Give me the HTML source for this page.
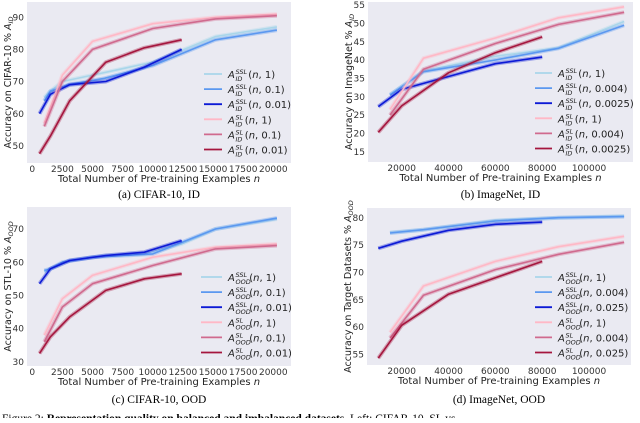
<!DOCTYPE html>
<html><head><meta charset="utf-8"><style>
body{margin:0;background:#fff;width:640px;height:418px;overflow:hidden}
svg{font-family:"DejaVu Sans","Liberation Sans",sans-serif}
.cap{font-family:"Liberation Serif",serif;font-size:11.5px}
</style></head><body>
<svg id="fig" width="640" height="418" viewBox="0 0 640 418" xmlns="http://www.w3.org/2000/svg"></svg>
<script>
// ---- Panel (a) CIFAR-10 ID ----
const aSsl1X=[1000,1500,2500,5000,10000,15200,20300], aSsl1Y=[65,67,70,72,76,84,87];
const aSsl2X=[1000,1500,3000,6000,10000,15200,20300], aSsl2Y=[64,67,69,71,75,83,86];
const aSsl3X=[600,1500,3100,6100,9300,12400], aSsl3Y=[60,66,69,70,74.5,80];
const aSl1X=[1000,2500,5000,10000,15200,20300], aSl1Y=[57,72,82.5,88,90,91];
const aSl2X=[1000,2500,5000,10000,15200,20300], aSl2Y=[56,70,80,86.5,89.5,90.5];
const aSl3X=[600,1500,3100,6100,9300,12400], aSl3Y=[47.5,53,64,76,80.5,83];
const aXTicks=[0,2500,5000,7500,10000,12500,15000,17500,20000], aYTicks=[50,60,70,80,90];
// ---- Panel (b) ImageNet ID ----
const bSsl1X=[15000,29300,60000,87000,115000], bSsl1Y=[30.5,37,41,43.3,50.5];
const bSsl2X=[15000,29300,60000,87000,115000], bSsl2Y=[30.5,36.8,40,43.2,49.5];
const bSsl3X=[10000,20000,40000,60000,80000], bSsl3Y=[27.3,32,35.5,39,40.8];
const bSl1X=[15000,29300,60000,87000,115000], bSl1Y=[26.5,40.5,46,51.5,54.5];
const bSl2X=[15000,29300,60000,87000,115000], bSl2Y=[25,37.5,44.5,49.7,53];
const bSl3X=[10000,20000,40000,60000,80000], bSl3Y=[20.3,27.5,36.5,42,46.3];
const bXTicks=[20000,40000,60000,80000,100000], bYTicks=[15,20,25,30,35,40,45,50,55];
// ---- Panel (c) CIFAR-10 OOD ----
const cSsl1X=[1000,1500,3100,6100,9300,12400,15200,20300], cSsl1Y=[57,58,60.5,62,62.5,65.5,70,73];
const cSsl2X=[1000,1500,2500,5000,10000,15200,20300], cSsl2Y=[57.5,58,60,61.5,62.5,70,73.3];
const cSsl3X=[600,1500,3100,6100,9300,12400], cSsl3Y=[53.5,58,60.5,62,63,66.5];
const cSl1X=[1000,2500,5000,10000,15200,20300], cSl1Y=[38,49,56,61.5,64.5,65.5];
const cSl2X=[1000,2500,5000,10000,15200,20300], cSl2Y=[36,46.5,53.5,59,64,65];
const cSl3X=[600,1500,3100,6100,9300,12400], cSl3Y=[32.5,37.5,43.5,51.5,55,56.5];
const cXTicks=[0,2500,5000,7500,10000,12500,15000,17500,20000], cYTicks=[30,40,50,60,70];
// ---- Panel (d) ImageNet OOD ----
const dSsl1X=[15000,29300,60000,87000,115000], dSsl1Y=[77.3,77.8,79.5,80,80.3];
const dSsl2X=[15000,29300,60000,87000,115000], dSsl2Y=[77.2,77.8,79.4,80,80.2];
const dSsl3X=[10000,20000,40000,60000,80000], dSsl3Y=[74.4,75.7,77.7,78.8,79.2];
const dSl1X=[15000,29300,60000,87000,115000], dSl1Y=[59,67.5,72,74.7,76.6];
const dSl2X=[15000,29300,60000,87000,115000], dSl2Y=[58,65.8,70.5,73.3,75.5];
const dSl3X=[10000,20000,40000,60000,80000], dSl3Y=[54.3,60.3,66,69,72];
const dXTicks=[20000,40000,60000,80000,100000], dYTicks=[55,60,65,70,75,80];
const aLegend=["1","0.1","0.01"], bLegend=["1","0.004","0.0025"], cLegend=["1","0.1","0.01"], dLegend=["1","0.004","0.025"];

const NS="http://www.w3.org/2000/svg", fig=document.getElementById('fig');
const COLORS=["#a9d6ea","#5b98f0","#0c1ad6","#ffb8c6","#d06a8e","#a5163e"];
function mk(tag,attrs,parent,text){const e=document.createElementNS(NS,tag);for(const k in attrs)e.setAttribute(k,attrs[k]);if(text!==undefined)e.textContent=text;(parent||fig).appendChild(e);return e;}

function panel(p){
  const g=mk('g',{});
  
  
  const bg=mk('rect',{x:p.l,y:p.t,width:p.r-p.l,height:p.b-p.t,fill:"#eaeaf2"},g);
  
  
  const sx=v=>p.x0px+(v-p.x0)*(p.x1px-p.x0px)/(p.x1-p.x0);
  const sy=v=>p.y0px+(v-p.y0)*(p.y1px-p.y0px)/(p.y1-p.y0);
  p.xt.forEach(v=>{
    const t=mk('text',{x:sx(v),y:p.b+9,'font-size':9,'text-anchor':'middle',fill:'#333'},g,String(v));
    
    
  });
  p.yt.forEach(v=>{
    const t=mk('text',{x:p.l-3,y:sy(v)+3.2,'font-size':9,'text-anchor':'end',fill:'#333'},g,String(v));
    
    
  });
  const xt=mk('text',{x:(p.l+p.r)/2,y:p.b+19,'font-size':10,'text-anchor':'middle',fill:'#222'},g);
  
  
  xt.innerHTML='Total Number of Pre-training Examples <tspan font-style="italic">n</tspan>';
  const yt=mk('text',{x:0,y:0,'font-size':9.5,'text-anchor':'middle',fill:'#222',transform:`translate(${p.l-p.yoff},${(p.t+p.b)/2}) rotate(-90)`},g);
  
  
  yt.innerHTML=p.ylab+' <tspan font-style="italic">A</tspan><tspan font-size="6.5" dy="2" font-style="italic">'+p.sub+'</tspan>';
  p.series.forEach((s,i)=>{
    const pts=s[0].map((x,j)=>sx(x).toFixed(1)+','+sy(s[1][j]).toFixed(1)).join(' ');
    const band=mk('polyline',{points:pts,fill:'none',stroke:COLORS[i],'stroke-width':4,'stroke-opacity':0.35,'stroke-linejoin':'round'},g);
    
    
    const line=mk('polyline',{points:pts,fill:'none',stroke:COLORS[i],'stroke-width':1.6,'stroke-linejoin':'round'},g);
    
    
  });
  p.leg.forEach((lab,i)=>{
    const y=p.legY+i*15.1;
    const ll=mk('line',{x1:p.legX,x2:p.legX+p.legW,y1:y,y2:y,stroke:COLORS[i],'stroke-width':1.8},g);
    
    
    const sup=i<3?'SSL':'SL';
    const x0=p.legX+p.legW+6;
    const supW=sup.length*4.1, subW=p.sub.length*4.4, w=Math.max(supW,subW);
    const t=mk('text',{x:x0,y:y+4,'font-size':10,fill:'#222'},g);
    
    
    t.innerHTML=`<tspan font-style="italic">A</tspan>`+
      `<tspan x="${x0+7.5}" dy="-4" font-size="6.5" font-style="italic">${sup}</tspan>`+
      `<tspan x="${x0+7.5}" dy="7" font-size="6.5" font-style="italic">${p.sub}</tspan>`+
      `<tspan x="${x0+8+w}" dy="-3">(</tspan><tspan font-style="italic">n</tspan>, ${lab})`;
  });
  const cap=mk('text',{x:(p.l+p.r)/2,y:p.capY,'text-anchor':'middle',class:'cap'},g,p.cap);
  
  
}
panel({name:'panel-cifar-id',l:27,r:291,t:2,b:163,x0:0,x1:20000,x0px:32.3,x1px:273.3,y0:50,y1:90,y0px:145.7,y1px:17.3,xt:aXTicks,yt:aYTicks,
  ylab:'Accuracy on CIFAR-10 %',sub:'ID',yoff:16,series:[[aSsl1X,aSsl1Y],[aSsl2X,aSsl2Y],[aSsl3X,aSsl3Y],[aSl1X,aSl1Y],[aSl2X,aSl2Y],[aSl3X,aSl3Y]],
  leg:aLegend.concat(aLegend),legX:204,legW:18,legY:74,cap:'(a)  CIFAR-10, ID',capY:198});
panel({name:'panel-imagenet-id',l:368,r:633,t:2,b:162,x0:20000,x1:100000,x0px:401.7,x1px:589,y0:15,y1:55,y0px:151.7,y1px:5,xt:bXTicks,yt:bYTicks,
  ylab:'Accuracy on ImageNet %',sub:'ID',yoff:16,series:[[bSsl1X,bSsl1Y],[bSsl2X,bSsl2Y],[bSsl3X,bSsl3Y],[bSl1X,bSl1Y],[bSl2X,bSl2Y],[bSl3X,bSl3Y]],
  leg:bLegend.concat(bLegend),legX:535,legW:17,legY:73,cap:'(b)  ImageNet, ID',capY:198});
panel({name:'panel-cifar-ood',l:27,r:291,t:207,b:366,x0:0,x1:20000,x0px:32.3,x1px:273.3,y0:30,y1:70,y0px:361.7,y1px:229,xt:cXTicks,yt:cYTicks,
  ylab:'Accuracy on STL-10 %',sub:'OOD',yoff:16,series:[[cSsl1X,cSsl1Y],[cSsl2X,cSsl2Y],[cSsl3X,cSsl3Y],[cSl1X,cSl1Y],[cSl2X,cSl2Y],[cSl3X,cSl3Y]],
  leg:cLegend.concat(cLegend),legX:201,legW:21,legY:277,cap:'(c)  CIFAR-10, OOD',capY:403});
panel({name:'panel-imagenet-ood',l:367,r:631,t:208,b:365,x0:20000,x1:100000,x0px:401.7,x1px:589,y0:55,y1:80,y0px:354.3,y1px:217.7,xt:dXTicks,yt:dYTicks,
  ylab:'Accuracy on Target Datasets %',sub:'OOD',yoff:16,series:[[dSsl1X,dSsl1Y],[dSsl2X,dSsl2Y],[dSsl3X,dSsl3Y],[dSl1X,dSl1Y],[dSl2X,dSl2Y],[dSl3X,dSl3Y]],
  leg:dLegend.concat(dLegend),legX:535,legW:17,legY:277,cap:'(d)  ImageNet, OOD',capY:403});
const fc=mk('text',{x:2,y:422,class:'cap','font-size':14});


fc.innerHTML='Figure 2: <tspan font-weight="bold">Representation quality on balanced and imbalanced datasets.</tspan> Left: CIFAR-10, SL vs';
</script>
</body></html>
